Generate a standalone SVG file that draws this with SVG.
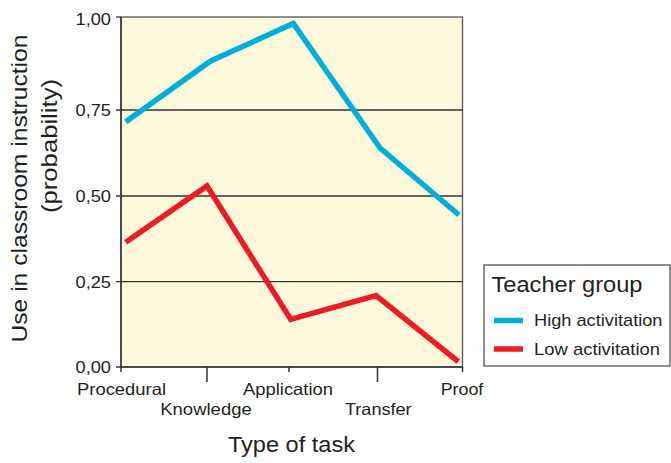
<svg xmlns="http://www.w3.org/2000/svg" width="671" height="463" viewBox="0 0 671 463">
<style>
text{font-family:"Liberation Sans",Arial,sans-serif;fill:#231f20}
.tick{font-size:16.5px;text-anchor:end}
.cat{font-size:16.5px;text-anchor:middle}
.grid{stroke:#333;stroke-width:1.3;fill:none}
.ax{stroke:#333;stroke-width:1.5;fill:none}
.ser{fill:none;stroke-width:5.5;stroke-linejoin:miter;stroke-linecap:butt}
.hi{stroke:#00aedb}
.lo{stroke:#ed1c24}
</style>
<g id="plot">
<rect x="121" y="17" width="341.5" height="350" fill="#fff9dc" stroke="#555" stroke-width="1.3"/>
<line class="grid" x1="116" y1="110" x2="462.5" y2="110"/>
<line class="grid" x1="116" y1="196" x2="462.5" y2="196"/>
<line class="grid" x1="116" y1="281.7" x2="462.5" y2="281.7"/>
<line class="grid" x1="116" y1="17" x2="121" y2="17"/>
<line class="ax" x1="121" y1="17" x2="121" y2="372"/>
<line class="ax" x1="116" y1="367" x2="462.5" y2="367"/>
<line class="ax" x1="207" y1="367" x2="207" y2="382"/>
<line class="ax" x1="289" y1="367" x2="289" y2="372"/>
<line class="ax" x1="377.5" y1="367" x2="377.5" y2="382"/>
<line class="ax" x1="462.5" y1="367" x2="462.5" y2="372"/>
</g>
<g id="y-ticks">
<text class="tick" x="111" y="25" textLength="35.5" lengthAdjust="spacingAndGlyphs">1,00</text>
<text class="tick" x="111" y="116" textLength="35.5" lengthAdjust="spacingAndGlyphs">0,75</text>
<text class="tick" x="111" y="202" textLength="35.5" lengthAdjust="spacingAndGlyphs">0,50</text>
<text class="tick" x="111" y="288" textLength="35.5" lengthAdjust="spacingAndGlyphs">0,25</text>
<text class="tick" x="111" y="373" textLength="35.5" lengthAdjust="spacingAndGlyphs">0,00</text>
</g>
<g id="x-ticks">
<text class="cat" x="121.5" y="395" textLength="89" lengthAdjust="spacingAndGlyphs">Procedural</text>
<text class="cat" x="206" y="415" textLength="91.5" lengthAdjust="spacingAndGlyphs">Knowledge</text>
<text class="cat" x="288" y="395" textLength="90" lengthAdjust="spacingAndGlyphs">Application</text>
<text class="cat" x="378.3" y="415" textLength="66.7" lengthAdjust="spacingAndGlyphs">Transfer</text>
<text class="cat" x="462" y="395" textLength="42.6" lengthAdjust="spacingAndGlyphs">Proof</text>
</g>
<g id="axis-titles">
<text x="291.5" y="452" font-size="21.5" text-anchor="middle" textLength="127" lengthAdjust="spacingAndGlyphs">Type of task</text>
<text transform="translate(27,188.5) rotate(-90)" font-size="22" text-anchor="middle" textLength="308" lengthAdjust="spacingAndGlyphs">Use in classroom instruction</text>
<text transform="translate(57,146) rotate(-90)" font-size="22" text-anchor="middle" textLength="134" lengthAdjust="spacingAndGlyphs">(probability)</text>
</g>
<g id="connectors">
<polyline id="high" class="ser hi" points="125.7,121.7 210.7,61 293.3,23.5 380,148 459,215"/>
<polyline id="low" class="ser lo" points="125.7,242.3 207,186 290.7,319.3 376,295.5 458.3,361.7"/>
</g>
<g id="legend">
<rect x="484" y="265" width="186" height="101" fill="#fff" stroke="#555" stroke-width="1.3"/>
<text x="491.5" y="292" font-size="22" textLength="151" lengthAdjust="spacingAndGlyphs">Teacher group</text>
<line x1="494" y1="320.5" x2="523" y2="320.5" class="ser hi"/>
<text x="534" y="326" font-size="17" textLength="128.5" lengthAdjust="spacingAndGlyphs">High activitation</text>
<line x1="494" y1="349" x2="523" y2="349" class="ser lo"/>
<text x="534" y="355" font-size="17" textLength="126" lengthAdjust="spacingAndGlyphs">Low activitation</text>
</g>
</svg>
